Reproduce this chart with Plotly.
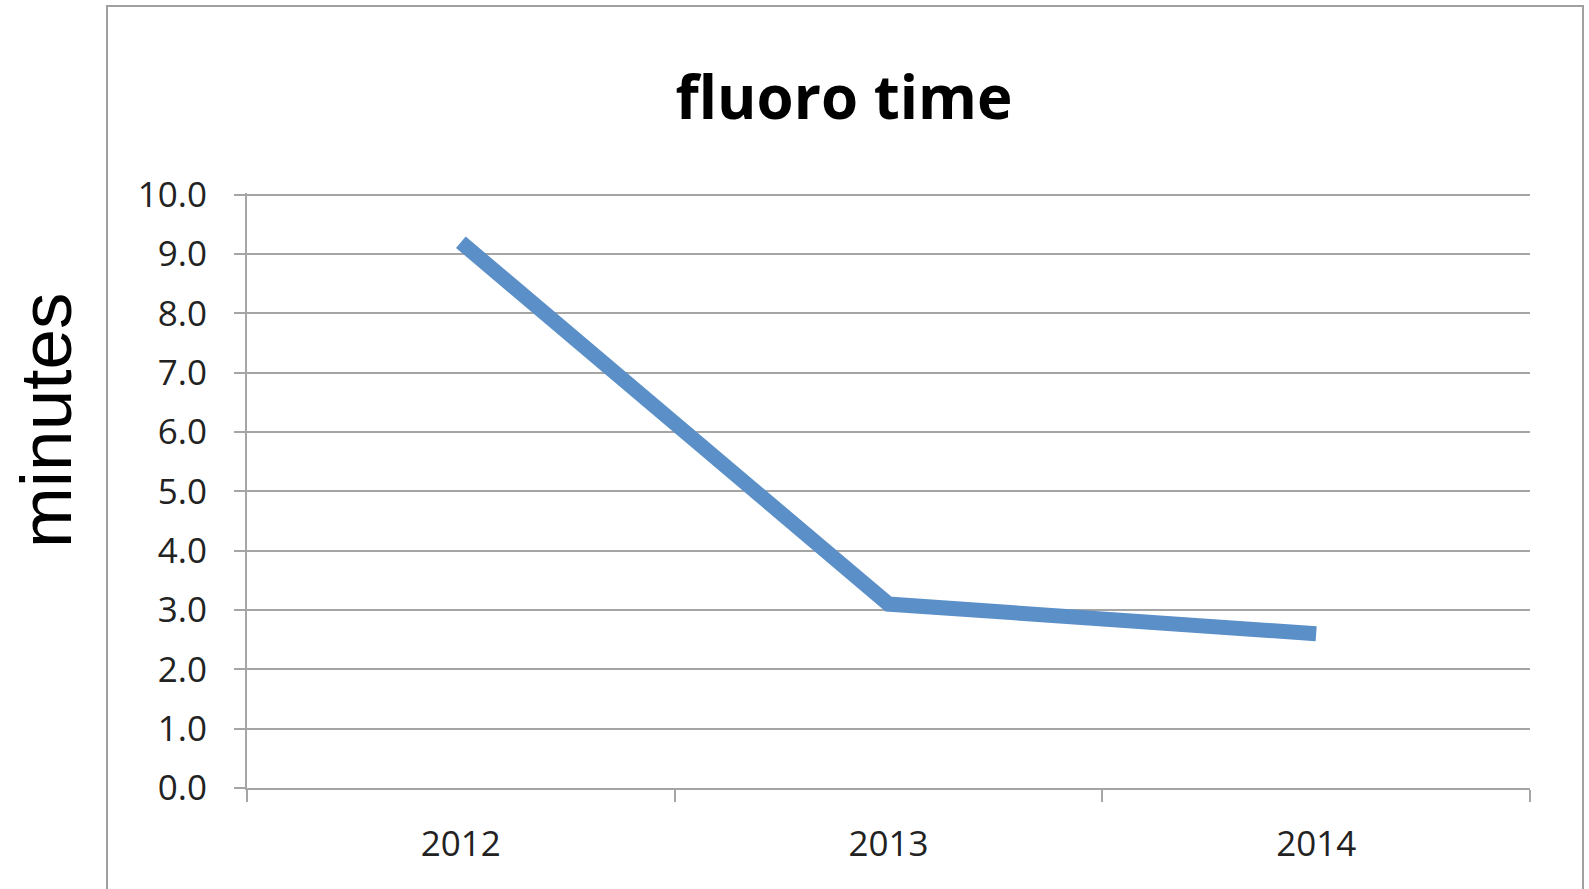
import plotly.graph_objects as go

# Fluoroscopy time per year (minutes)
years = ["2012", "2013", "2014"]
minutes = [9.2, 3.1, 2.6]
y_ticks = [0, 1, 2, 3, 4, 5, 6, 7, 8, 9, 10]

W, H = 1589, 889
L, R, T, B = 247, 59, 193, 101
pw = W - L - R
ph = H - T - B


def px_x(x):
    return (x - L) / pw


def px_y(y):
    return (H - B - y) / ph


grid = "#a5a5a5"
label_font = dict(family="Open Sans, Lato, sans-serif", size=35, color="#222222")

fig = go.Figure()
fig.add_trace(go.Scatter(
    x=years, y=minutes, mode="lines",
    line=dict(color="#5b8fc8", width=15),
    hoverinfo="x+y", showlegend=False,
))

fig.update_layout(
    width=W, height=H,
    margin=dict(l=L, r=R, t=T, b=B),
    paper_bgcolor="white", plot_bgcolor="white",
    title=dict(
        text="<b>fluoro time</b>",
        font=dict(family="Open Sans, Lato, sans-serif", size=60, color="#000000"),
        x=844 / W, xanchor="center", xref="container",
        y=1 - 98 / H, yanchor="middle",
    ),
    xaxis=dict(
        type="category", tickson="boundaries", range=[-0.5, 2.5],
        showgrid=False, showline=True, linecolor=grid, linewidth=2,
        ticks="outside", ticklen=12, tickwidth=2, tickcolor=grid,
        tickfont=label_font, ticklabelstandoff=24,
        zeroline=False,
    ),
    yaxis=dict(
        range=[0, 10.03], tickvals=y_ticks, tickformat=".1f",
        showgrid=True, gridcolor=grid, gridwidth=2,
        showline=True, linecolor=grid, linewidth=2,
        ticks="outside", ticklen=11, tickwidth=2, tickcolor=grid,
        tickfont=label_font, ticklabelstandoff=20,
        zeroline=False,
    ),
    annotations=[dict(
        text="minutes", textangle=-90,
        font=dict(family="Liberation Sans, Arial, sans-serif", size=73, color="#000000"),
        xref="paper", yref="paper",
        x=px_x(45), y=px_y(420),
        xanchor="center", yanchor="middle", showarrow=False,
    )],
    shapes=[dict(
        type="rect", xref="paper", yref="paper",
        x0=px_x(107), x1=px_x(1583), y0=px_y(900), y1=px_y(6),
        line=dict(color="#a0a0a0", width=2), layer="below",
    )],
)

fig.write_html("out.html")
